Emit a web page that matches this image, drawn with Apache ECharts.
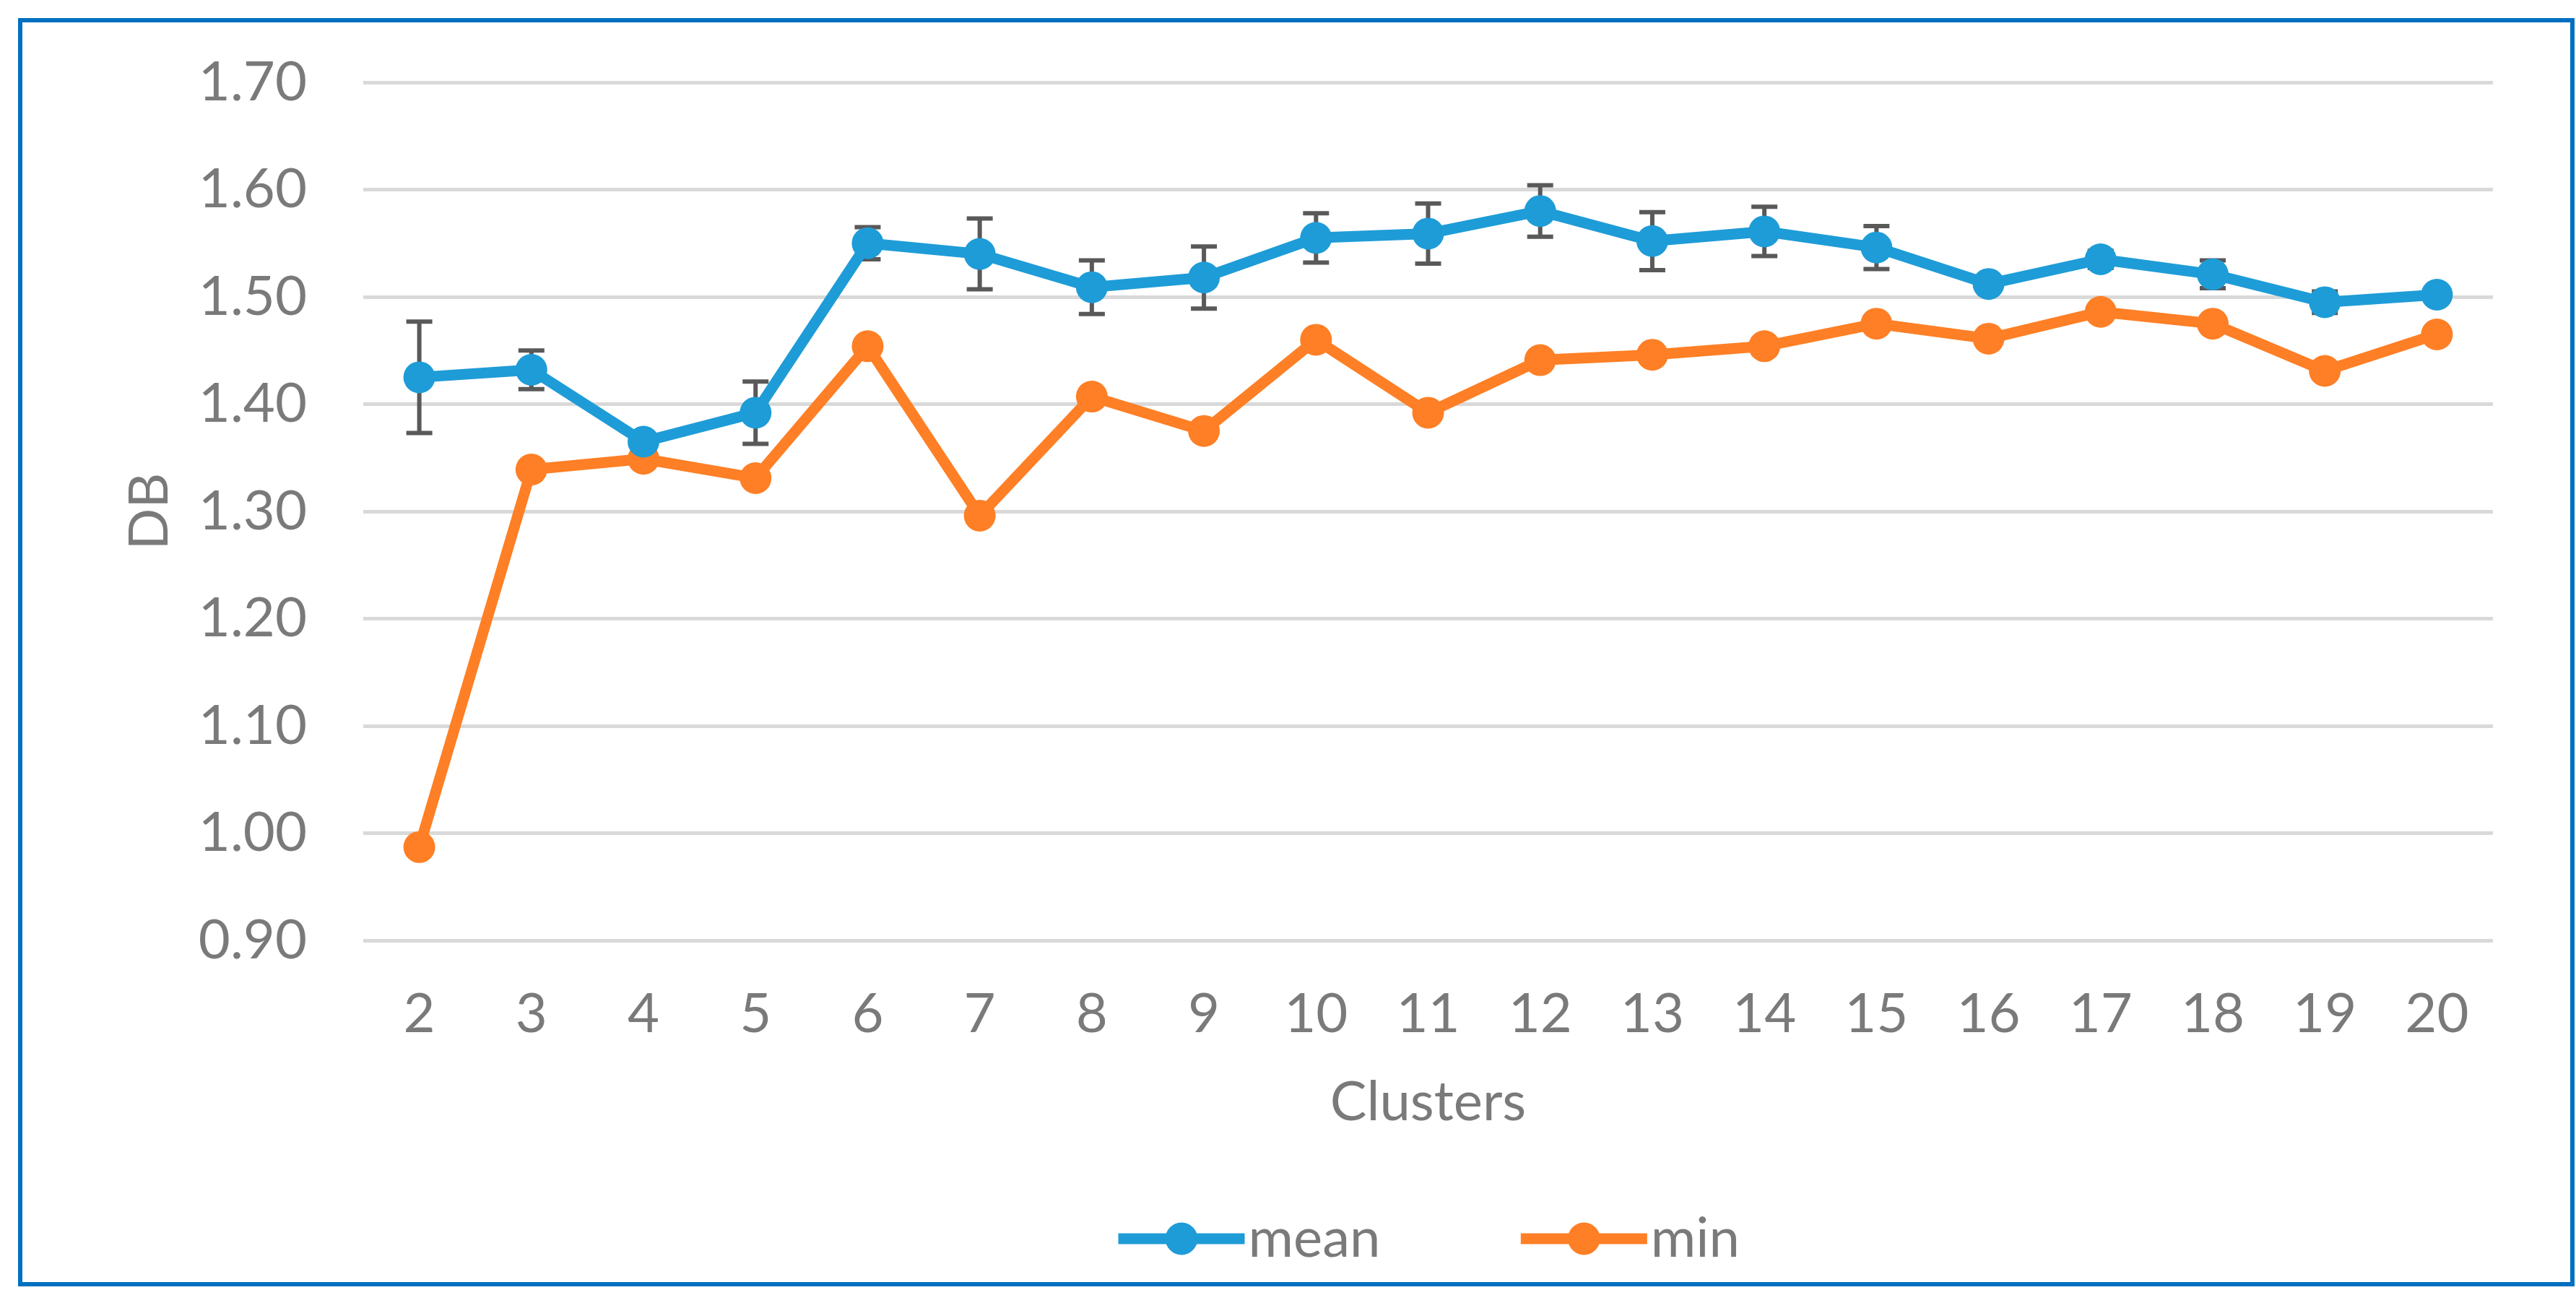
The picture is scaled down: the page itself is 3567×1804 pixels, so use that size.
<!DOCTYPE html>
<html>
<head>
<meta charset="utf-8">
<script src="https://cdn.jsdelivr.net/npm/echarts@6/dist/echarts.min.js"></script>
<style>
html,body{margin:0;padding:0;background:#fff;}
#chart{width:3567px;height:1804px;}
</style>
</head>
<body>
<div id="chart"></div>
<script>
const categories = ['2','3','4','5','6','7','8','9','10','11','12','13','14','15','16','17','18','19','20'];
const meanValues = [1.425,1.432,1.365,1.392,1.550,1.540,1.509,1.518,1.555,1.559,1.580,1.552,1.561,1.546,1.512,1.535,1.521,1.495,1.502];
const meanErr =    [0.052,0.018,0.006,0.029,0.015,0.033,0.025,0.029,0.023,0.028,0.024,0.027,0.023,0.020,0.004,0.008,0.013,0.010,0.004];
const minValues =  [0.987,1.339,1.349,1.331,1.454,1.296,1.407,1.375,1.460,1.392,1.441,1.446,1.454,1.475,1.461,1.486,1.475,1.431,1.465];
const yTicks = {min:0.9, max:1.7, interval:0.1};

const FONT = 'Lato';
const TXT = '#7a7a7a';
const chart = echarts.init(document.getElementById('chart'));

const errData = meanValues.map((v,i)=>[i, v - meanErr[i], v + meanErr[i]]);

chart.setOption({
  animation:false,
  backgroundColor:'#fff',
  textStyle:{fontFamily:FONT},
  graphic:[{
    type:'rect', silent:true, z:100,
    shape:{x:28,y:28,width:3534,height:1750},
    style:{fill:'none',stroke:'#0070C0',lineWidth:6}
  }],
  grid:{left:503,right:115,top:114,bottom:502,containLabel:false},
  legend:{
    left:1536, top:1672,
    itemWidth:175, itemHeight:56, itemGap:187,
    lineStyle:{width:15},
    textStyle:{fontFamily:FONT,fontSize:76,color:TXT},
    data:['mean','min']
  },
  xAxis:{
    type:'category', data:categories, boundaryGap:true,
    name:'Clusters', nameLocation:'middle', nameGap:186,
    nameTextStyle:{fontFamily:FONT,fontSize:76,color:TXT},
    axisLine:{show:false}, axisTick:{show:false},
    axisLabel:{fontFamily:FONT,fontSize:76,color:TXT,margin:64}
  },
  yAxis:{
    type:'value', min:yTicks.min, max:yTicks.max, interval:yTicks.interval,
    name:'DB', nameLocation:'middle', nameGap:258,
    nameTextStyle:{fontFamily:FONT,fontSize:76,color:TXT},
    axisLine:{show:false}, axisTick:{show:false},
    axisLabel:{fontFamily:FONT,fontSize:76,color:TXT,margin:78,formatter:v=>v.toFixed(2)},
    splitLine:{lineStyle:{color:'#d9d9d9',width:5}}
  },
  series:[
    {
      name:'meanErr', type:'custom', z:1, silent:true,
      data:errData,
      renderItem:function(params, api){
        const x = api.value(0);
        const lo = api.coord([x, api.value(1)]);
        const hi = api.coord([x, api.value(2)]);
        const cw = 18;
        const st = {stroke:'#595959', lineWidth:6};
        return {type:'group', children:[
          {type:'line', shape:{x1:lo[0],y1:lo[1],x2:hi[0],y2:hi[1]}, style:st},
          {type:'line', shape:{x1:lo[0]-cw,y1:lo[1],x2:lo[0]+cw,y2:lo[1]}, style:st},
          {type:'line', shape:{x1:hi[0]-cw,y1:hi[1],x2:hi[0]+cw,y2:hi[1]}, style:st}
        ]};
      }
    },
    {
      name:'mean', type:'line', z:3, data:meanValues,
      symbol:'circle', symbolSize:44,
      lineStyle:{color:'#1E9CD7',width:15},
      itemStyle:{color:'#1E9CD7'}
    },
    {
      name:'min', type:'line', z:2, data:minValues,
      symbol:'circle', symbolSize:44,
      lineStyle:{color:'#FE7F25',width:15},
      itemStyle:{color:'#FE7F25'}
    }
  ]
});
</script>
</body>
</html>
